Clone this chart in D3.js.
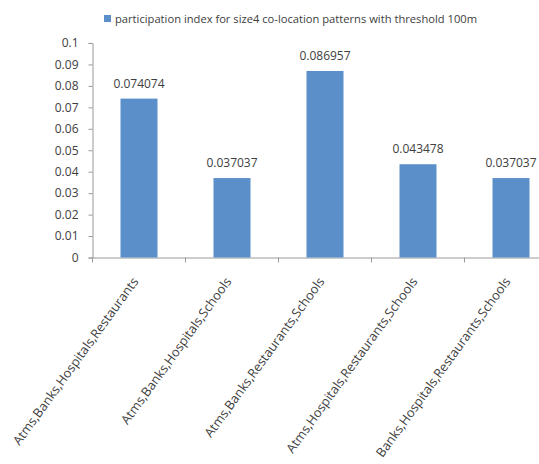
<!DOCTYPE html>
<html><head><meta charset="utf-8">
<script src="https://cdn.jsdelivr.net/npm/d3@7"></script>
<style>body{margin:0;background:#fff;} svg{display:block;}</style>
</head><body>
<svg id="c" width="539" height="464"></svg>
<script>
const categories = ["Atms,Banks,Hospitals,Restaurants","Atms,Banks,Hospitals,Schools","Atms,Banks,Restaurants,Schools","Atms,Hospitals,Restaurants,Schools","Banks,Hospitals,Restaurants,Schools"];
const values = [0.074074, 0.037037, 0.086957, 0.043478, 0.037037];
const valueLabels = ["0.074074","0.037037","0.086957","0.043478","0.037037"];
const yTicks = [0,0.01,0.02,0.03,0.04,0.05,0.06,0.07,0.08,0.09,0.1];
const yTickLabels = ["0","0.01","0.02","0.03","0.04","0.05","0.06","0.07","0.08","0.09","0.1"];
const seriesName = "participation index for size4 co-location patterns with threshold 100m";

const svg = d3.select("#c");
const font = "'Open Sans', sans-serif";
const textColor = "#404040";
const axisColor = "#9a9a9a";
const barColor = "#5b8fca";

const x0 = 92.5, bandW = 93;
const x = d3.scaleBand().domain(categories).range([x0, x0 + bandW*categories.length]).paddingInner(0).paddingOuter(0);
const y = d3.scaleLinear().domain([0, 0.1]).range([257.5, 43]);

// Legend
svg.append("rect").attr("x",104).attr("y",15).attr("width",7).attr("height",7).attr("fill",barColor);
svg.append("text").attr("x",115).attr("y",23).attr("font-family",font).attr("font-size",10.5)
  .attr("fill",textColor).attr("textLength",362).attr("lengthAdjust","spacingAndGlyphs").text(seriesName);

// Y axis
const yAxis = d3.axisLeft(y).tickValues(yTicks).tickFormat((d,i)=>yTickLabels[i]).tickSize(4).tickPadding(10);
const gy = svg.append("g").attr("transform",`translate(${x0},0)`).call(yAxis);
gy.select(".domain").attr("stroke",axisColor);
gy.selectAll(".tick line").attr("stroke",axisColor);
gy.selectAll(".tick text").attr("font-family",font).attr("font-size",12).attr("fill",textColor);

// X axis
const xAxis = d3.axisBottom(x).tickSizeInner(0).tickSizeOuter(0).tickFormat("");
const gx = svg.append("g").attr("transform",`translate(0,${y(0)})`).call(xAxis);
gx.select(".domain").attr("stroke",axisColor);
gx.selectAll(".tick").remove();
const bounds = categories.map(c => x(c)).concat([x(categories[categories.length-1]) + x.bandwidth()]);
gx.selectAll("line.b").data(bounds).enter().append("line").attr("class","b")
  .attr("x1",d=>d).attr("x2",d=>d).attr("y1",0).attr("y2",5).attr("stroke",axisColor);

// Bars
const barW = 37;
svg.selectAll("rect.bar").data(values).enter().append("rect").attr("class","bar")
  .attr("x",(d,i)=>x(categories[i]) + x.bandwidth()/2 - barW/2)
  .attr("y",d=>y(d)).attr("width",barW).attr("height",d=>y(0)-y(d))
  .attr("fill",barColor);

// Value labels
svg.selectAll("text.val").data(values).enter().append("text").attr("class","val")
  .attr("x",(d,i)=>x(categories[i]) + x.bandwidth()/2)
  .attr("y",d=>y(d)-11).attr("text-anchor","middle")
  .attr("font-family",font).attr("font-size",12).attr("fill",textColor)
  .text((d,i)=>valueLabels[i]);

// Category labels
svg.selectAll("text.cat").data(categories).enter().append("text").attr("class","cat")
  .attr("transform",d=>`translate(${x(d)+x.bandwidth()/2},${y(0)+24}) rotate(-54)`)
  .attr("text-anchor","end").attr("font-family",font).attr("font-size",12.8).attr("fill",textColor)
  .text(d=>d);
</script>
</body></html>
